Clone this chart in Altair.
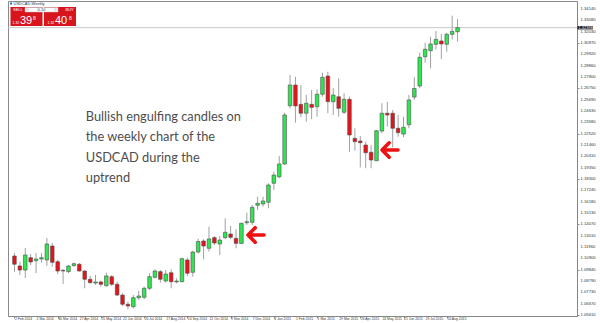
import altair as alt
import pandas as pd

# ---------------- data ----------------
opens = [1.1111, 1.1018, 1.0980, 1.1095, 1.1067, 1.1083, 1.1074, 1.1204, 1.1058, 1.0977,
         1.0965, 1.1021, 1.1034, 1.0971, 1.0894, 1.0859, 1.0869, 1.0834, 1.0918, 1.0847,
         1.0747, 1.0661, 1.0638, 1.0722, 1.0726, 1.0810, 1.0912, 1.0965, 1.0878, 1.0955,
         1.0869, 1.0871, 1.1074, 1.0959, 1.1148, 1.1251, 1.1183, 1.1282, 1.1223, 1.1282,
         1.1316, 1.1276, 1.1228, 1.1421, 1.1425, 1.1584, 1.1596, 1.1612, 1.1789, 1.1850,
         1.1969, 1.2512, 1.2705, 1.2525, 1.2442, 1.2525, 1.2503, 1.2619, 1.2789, 1.2550,
         1.2596, 1.2451, 1.2572, 1.2208, 1.2183, 1.2146, 1.2078, 1.1999, 1.2276, 1.2442,
         1.2442, 1.2302, 1.2248, 1.2335, 1.2593, 1.2696, 1.2969, 1.3025, 1.3085, 1.3116,
         1.3085, 1.3178, 1.3202]
highs = [1.1139, 1.1055, 1.1186, 1.1130, 1.1139, 1.1139, 1.1279, 1.1232, 1.1074, 1.0990,
         1.1027, 1.1049, 1.1046, 1.0980, 1.0925, 1.0934, 1.0881, 1.0955, 1.0934, 1.0871,
         1.0763, 1.0685, 1.0747, 1.0787, 1.0825, 1.0950, 1.0987, 1.0980, 1.0980, 1.0987,
         1.0903, 1.1095, 1.1095, 1.1160, 1.1272, 1.1267, 1.1384, 1.1297, 1.1297, 1.1462,
         1.1391, 1.1360, 1.1421, 1.1515, 1.1587, 1.1664, 1.1664, 1.1789, 1.1897, 1.2043,
         1.2447, 1.2799, 1.2783, 1.2705, 1.2612, 1.2659, 1.2665, 1.2820, 1.2829, 1.2675,
         1.2768, 1.2628, 1.2596, 1.2302, 1.2230, 1.2177, 1.2146, 1.2286, 1.2535, 1.2550,
         1.2472, 1.2426, 1.2410, 1.2612, 1.2780, 1.3007, 1.3100, 1.3156, 1.3209, 1.3181,
         1.3193, 1.3352, 1.3321]
lows = [1.0962, 1.0934, 1.0906, 1.1027, 1.0952, 1.1049, 1.1018, 1.1011, 1.0943, 1.0850,
        1.0952, 1.1011, 1.0965, 1.0810, 1.0856, 1.0841, 1.0825, 1.0825, 1.0831, 1.0738,
        1.0645, 1.0614, 1.0623, 1.0701, 1.0707, 1.0794, 1.0903, 1.0862, 1.0862, 1.0810,
        1.0856, 1.0866, 1.0925, 1.0918, 1.1136, 1.1080, 1.1151, 1.1214, 1.1120, 1.1267,
        1.1267, 1.1183, 1.1223, 1.1400, 1.1400, 1.1540, 1.1571, 1.1556, 1.1726, 1.1835,
        1.1959, 1.2488, 1.2354, 1.2404, 1.2363, 1.2386, 1.2410, 1.2596, 1.2442, 1.2426,
        1.2410, 1.2435, 1.2083, 1.2093, 1.1938, 1.1929, 1.1929, 1.1997, 1.2255, 1.2317,
        1.2124, 1.2223, 1.2218, 1.2302, 1.2566, 1.2675, 1.2913, 1.2861, 1.3038, 1.2948,
        1.3016, 1.3131, 1.3109]
closes = [1.1034, 1.0980, 1.1120, 1.1055, 1.1083, 1.1095, 1.1223, 1.1052, 1.0971, 1.0971,
          1.1018, 1.1039, 1.0971, 1.0894, 1.0862, 1.0869, 1.0847, 1.0925, 1.0847, 1.0747,
          1.0661, 1.0645, 1.0722, 1.0738, 1.0810, 1.0918, 1.0971, 1.0894, 1.0943, 1.0871,
          1.0878, 1.1086, 1.0950, 1.1148, 1.1246, 1.1204, 1.1270, 1.1232, 1.1260, 1.1332,
          1.1285, 1.1229, 1.1416, 1.1431, 1.1565, 1.1602, 1.1624, 1.1773, 1.1866, 1.1969,
          1.2426, 1.2705, 1.2510, 1.2442, 1.2535, 1.2497, 1.2619, 1.2777, 1.2550, 1.2612,
          1.2488, 1.2572, 1.2239, 1.2177, 1.2167, 1.2074, 1.2006, 1.2279, 1.2442, 1.2426,
          1.2302, 1.2261, 1.2311, 1.2566, 1.2673, 1.2964, 1.3038, 1.3088, 1.3131, 1.3088,
          1.3178, 1.3206, 1.3240]

x_tick_labels = ["2 Feb 2014", "2 Mar 2014", "30 Mar 2014", "27 Apr 2014", "25 May 2014",
                 "22 Jun 2014", "20 Jul 2014", "17 Aug 2014", "14 Sep 2014", "12 Oct 2014",
                 "9 Nov 2014", "7 Dec 2014", "4 Jan 2015", "1 Feb 2015", "1 Mar 2015",
                 "29 Mar 2015", "26 Apr 2015", "24 May 2015", "21 Jun 2015", "19 Jul 2015",
                 "16 Aug 2015"]
x_tick_weeks = list(range(0, 84, 4))
y_tick_values = [1.34140, 1.33080, 1.32030, 1.30970, 1.29920, 1.28860, 1.27800, 1.26750,
                 1.25690, 1.24630, 1.23580, 1.22520, 1.21460, 1.20410, 1.19350, 1.18300,
                 1.17240, 1.16180, 1.15130, 1.14070, 1.13010, 1.11960, 1.10900, 1.09840,
                 1.08790, 1.07730, 1.06670, 1.05610]
current_price = 1.32398
arrow_week = [44.7, 69.5]
arrow_price = [1.1307, 1.2099]
note_lines = ["Bullish engulfing candles on", "the weekly chart of the",
              "USDCAD during the", "uptrend"]

# ---------------- build ----------------
df = pd.DataFrame({"i": list(range(len(opens))), "open": opens, "high": highs,
                   "low": lows, "close": closes})
W, H = 569, 315
GREEN, RED = "#2ee64f", "#e5141b"
AXIS_TXT = "#333333"

xscale = alt.Scale(domain=[-0.27, 103.18], nice=False, zero=False)
yscale = alt.Scale(domain=[1.05515, 1.34886], nice=False, zero=False)

xaxis = alt.Axis(values=x_tick_weeks, labels=False, tickSize=2,
                 tickColor="#888888", domainColor="#888888", title=None, grid=False)
yaxis = alt.Axis(orient="right", values=y_tick_values, labels=False, tickSize=2,
                 tickColor="#888888", domainColor="#888888", title=None, grid=False)

anchor = pd.DataFrame({"a": [0]})
PL, PT = 8, 1


def box(x1, y1, x2, y2, color, stroke=None):
    kw = {"color": color}
    if stroke:
        kw.update(stroke=stroke, strokeWidth=0.5)
    return alt.Chart(anchor).mark_rect(**kw).encode(
        x=alt.value(x1 - PL), x2=alt.value(x2 - PL),
        y=alt.value(y1 - PT), y2=alt.value(y2 - PT))


def label(x, y, text, size, color, align="left", weight="normal"):
    return alt.Chart(anchor).mark_text(
        text=text, fontSize=size, color=color, align=align, baseline="middle",
        font="Liberation Sans", fontWeight=weight).encode(
        x=alt.value(x - PL), y=alt.value(y - PT))


base = alt.Chart(df)
price_line = alt.Chart(anchor).mark_rule(color="#c8c8c8", strokeWidth=1).encode(
    y=alt.datum(current_price, scale=yscale))
wicks = base.mark_rule(color="#a0a0a0", strokeWidth=1).encode(
    x=alt.X("i:Q", scale=xscale, axis=xaxis),
    y=alt.Y("low:Q", scale=yscale, axis=yaxis),
    y2="high:Q")
bodies = base.mark_bar(width=3.6, stroke="#4d4d4d", strokeWidth=0.6).encode(
    x="i:Q", y="open:Q", y2="close:Q",
    color=alt.condition("datum.close >= datum.open", alt.value(GREEN), alt.value(RED)))

x_labels = alt.Chart(pd.DataFrame({"w": x_tick_weeks, "lab": x_tick_labels})).mark_text(
    align="left", baseline="middle", fontSize=3.4, color=AXIS_TXT,
    font="Liberation Sans", dx=0.5).encode(
    x="w:Q", y=alt.value(H + 3), text="lab:N")
y_labels = alt.Chart(pd.DataFrame({"v": y_tick_values})).mark_text(
    align="left", baseline="middle", fontSize=4.2, color=AXIS_TXT,
    font="Liberation Sans").encode(
    x=alt.value(W + 3.5), y="v:Q", text=alt.Text("v:Q", format=".5f"))

arrows = alt.Chart(pd.DataFrame({"w": arrow_week, "p": arrow_price})).mark_point(
    shape="M-1,0L1,0M-1,0L-0.1,-0.9M-1,0L-0.1,0.9", size=256, filled=False,
    stroke="#ee1111", strokeWidth=3.6, strokeCap="round", strokeJoin="round",
    opacity=1).encode(x="w:Q", y="p:Q")

note = alt.Chart(anchor).mark_text(
    text=note_lines, fontSize=12.8, lineHeight=20.5, align="left",
    baseline="alphabetic", color="#4d4d4d", font="Lato").encode(
    x=alt.datum(13.2), y=alt.datum(1.2370))

cur_box = alt.Chart(anchor).mark_rect(color="#1a1a1a").encode(
    x=alt.value(W + 0.5), x2=alt.value(W + 16),
    y=alt.datum(current_price + 0.0016), y2=alt.datum(current_price - 0.0016))
cur_txt = alt.Chart(anchor).mark_text(
    text=f"{current_price:.5f}", fontSize=4, color="white", align="left",
    baseline="middle", font="Liberation Sans").encode(
    x=alt.value(W + 1.5), y=alt.datum(current_price))

widget = [
    box(10, 2.5, 12, 4.5, "#2f6fb5"),
    label(13.5, 3.6, "USDCAD,Weekly", 4, "#333333"),
    box(10.5, 7, 42.5, 26, "#d8151d"),
    box(44, 7, 76, 26, "#d8151d"),
    box(25, 7.5, 58, 12, "#ffffff", stroke="#bbbbbb"),
    box(25.5, 8, 29, 11.5, "#e6e6e6"),
    box(54, 8, 57.5, 11.5, "#e6e6e6"),
    label(41.5, 9.8, "0.10", 4, "#333333", align="center"),
    label(13, 9.6, "SELL", 4, "#ffffff"),
    label(65.5, 9.6, "BUY", 4, "#ffffff"),
    label(12.5, 22.5, "1.32", 3.5, "#ffffff"),
    label(20, 20.5, "39", 11, "#ffffff"),
    label(33, 17.5, "8", 5, "#ffffff"),
    label(47.5, 22.5, "1.32", 3.5, "#ffffff"),
    label(55, 20.5, "40", 11, "#ffffff"),
    label(69, 17.5, "8", 5, "#ffffff"),
]

chart = alt.layer(price_line, wicks, bodies, x_labels, y_labels, arrows, note,
                  cur_box, cur_txt, *widget).properties(
    width=W, height=H,
    padding={"left": PL, "top": PT, "right": 600 - PL - W, "bottom": 323 - PT - H},
    autosize=alt.AutoSizeParams(type="none"),
    background="white",
).configure_view(stroke="#8a8a8a", strokeWidth=1)

chart.save("out.html", embed_options={"renderer": "svg", "actions": False})
